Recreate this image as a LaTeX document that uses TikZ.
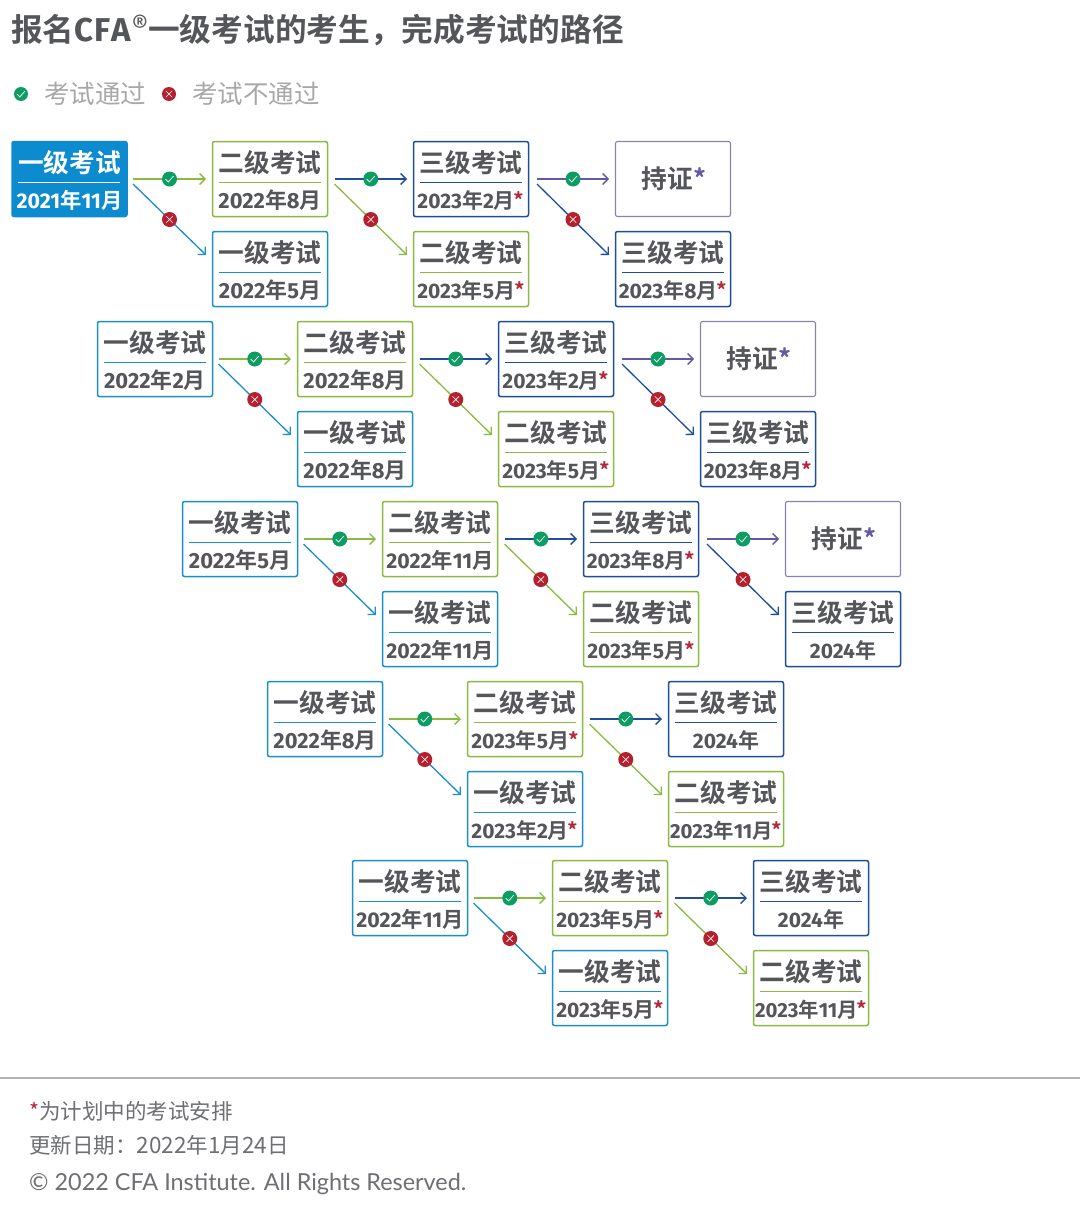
\documentclass[tikz,border=0pt]{standalone}
\usepackage{fontspec}
\usetikzlibrary{arrows.meta}
\newfontfamily\cjkr{Noto Sans CJK SC}
\newfontfamily\cjkb{Noto Sans CJK SC Bold}
\newfontfamily\latl{Lato}
\newfontfamily\fira[Numbers={Proportional,Lining}]{Fira Sans}
\definecolor{inktext}{HTML}{55565A}
\definecolor{lvlone}{HTML}{1A8FCB}
\definecolor{lvlfill}{HTML}{0C8CCE}
\definecolor{lvltwo}{HTML}{8ABB40}
\definecolor{lvlthree}{HTML}{1F4E9C}
\definecolor{cert}{HTML}{6457A6}
\definecolor{certedge}{HTML}{8883A8}
\definecolor{redstar}{HTML}{B4283C}
\definecolor{okgreen}{HTML}{0D9D62}
\definecolor{badred}{HTML}{B5202F}
\definecolor{legendgrey}{HTML}{A8A8A8}
\newcommand{\rs}{\textcolor{redstar}{\cjkb*}}
\newcommand{\dg}[1]{{\fira\bfseries #1}}
\newcommand{\dbase}[2]{\dg{#1}年\dg{#2}月}
% plain date, date with 11, starred date, starred date with 11
\newcommand{\dt}[2]{{\fontsize{21.9}{24}\selectfont\dbase{#1}{#2}}}
\newcommand{\de}[2]{{\fontsize{21.3}{24}\selectfont\dbase{#1}{#2}}}
\newcommand{\ds}[2]{{\fontsize{21}{24}\selectfont\dbase{#1}{#2}}\kern-1pt\rs}
\newcommand{\dq}[2]{{\fontsize{20.4}{24}\selectfont\dbase{#1}{#2}}\kern-1.5pt\rs}
\tikzset{
  cellbox/.style={draw=#1,line width=1.5pt,rounded corners=2pt,minimum width=115pt,minimum height=75pt,inner sep=0pt,outer sep=0pt},
  celltitle/.style={inner sep=0pt,font={\cjkb\fontsize{25.7}{28}\selectfont},text=inktext},
  celldate/.style={inner sep=0pt,font={\cjkb\fontsize{21}{24}\selectfont},text=inktext},
  link/.style={line width=1.3pt,-{Straight Barb[length=5.5pt,width=11pt,line width=1.3pt]}},
  okbadge/.style={circle,fill=okgreen,minimum size=15pt,inner sep=0pt,
    path picture={\draw[arrows=-,white,line width=.7pt,shift={(path picture bounding box.center)}] (-4,0)--(-1.2,3)--(4,-3);}},
  nobadge/.style={circle,fill=badred,minimum size=15pt,inner sep=0pt,
    path picture={\draw[arrows=-,white,line width=.7pt,shift={(path picture bounding box.center)}] (-3.2,-3.2)--(3.2,3.2) (-3.2,3.2)--(3.2,-3.2);}},
  plain/.style={inner sep=0pt,anchor=west,text=inktext}
}
% name, left, top, title, date, colour
\newcommand{\examcell}[6]{%
  \node[cellbox=#6] (#1) at (#2+58,#3+38) {};
  \node[celltitle] (#1t) at (#2+58,#3+22) {#4};
  \node[celldate] (#1d) at (#2+58,#3+59.5) {#5};
  \draw[#6,line width=1.5pt] ([xshift=-51.5pt,yshift=-3.7pt]#1.center) -- ([xshift=50.5pt,yshift=-3.7pt]#1.center);
}
\newcommand{\firstcell}[5]{%
  \node[cellbox=lvlfill,fill=lvlfill] (#1) at (#2+57.5,#3+38) {};
  \node[celltitle,text=white] (#1t) at (#2+57.5,#3+22) {#4};
  \node[celldate,text=white] (#1d) at (#2+57.5,#3+59.5) {#5};
  \draw[white,line width=1.5pt] ([xshift=-51.5pt,yshift=-3.7pt]#1.center) -- ([xshift=50.5pt,yshift=-3.7pt]#1.center);
}
\newcommand{\certcell}[3]{%
  \node[cellbox=certedge,line width=1.1pt] (#1) at (#2+58,#3+38) {};
  \node[celltitle,xshift=1pt] (#1t) at (#1.center) {持证\textcolor{cert}{*}};
}
% from, pass target, fail target, pass colour, fail colour, start gap
\newcommand{\split}[6]{%
  \draw[link,#4] ([xshift=#6 pt]#1.east) -- node[okbadge,pos=.5] (#1ok) {} ([xshift=-6.5pt]#2.west);
  \draw[link,#5] ([shift={(#6,5)}]#1.east) -- node[nobadge,pos=.5] (#1no) {} ([shift={(-6.5,-14)}]#3.west);
}
\begin{document}
\begin{tikzpicture}[x=1pt,y=-1pt]
\useasboundingbox (0,0) rectangle (1080,1218);
\fill[white] (0,0) rectangle (1080,1218);
% heading
\node[plain,font={\cjkb\fontsize{31.7}{34}\selectfont}] (heading) at (11,30) {报名{\fira\bfseries\fontsize{33}{34}\selectfont C\kern1pt F\kern1pt A\kern.5pt}\raisebox{7pt}{\fontsize{26}{26}\selectfont\fira ®}一级考试的考生，完成考试的路径};
% legend
\node[okbadge,minimum size=14pt] (legok) at (21,94) {};
\node[plain,font={\cjkr\fontsize{25.5}{28}\selectfont},text=legendgrey] (legoktext) at (44,94) {考试通过};
\node[nobadge,minimum size=14pt] (legno) at (169,94) {};
\node[plain,font={\cjkr\fontsize{25.5}{28}\selectfont},text=legendgrey] (legnotext) at (192,94) {考试不通过};
% row 1
\firstcell{a1}{12}{141}{一级考试}{\de{2021}{11}}
\examcell{a2}{212}{141}{二级考试}{\dt{2022}{8}}{lvltwo}
\examcell{a3}{212}{231}{一级考试}{\dt{2022}{5}}{lvlone}
\examcell{a4}{413}{141}{三级考试}{\ds{2023}{2}}{lvlthree}
\examcell{a5}{413}{231}{二级考试}{\ds{2023}{5}}{lvltwo}
\certcell{a6}{615}{141}
\examcell{a7}{615}{231}{三级考试}{\ds{2023}{8}}{lvlthree}
\split{a1}{a2}{a3}{lvltwo}{lvlone}{6}
\split{a2}{a4}{a5}{lvlthree}{lvltwo}{7}
\split{a4}{a6}{a7}{cert}{lvlthree}{8.5}
% row 2
\examcell{b1}{97}{321}{一级考试}{\dt{2022}{2}}{lvlone}
\examcell{b2}{297}{321}{二级考试}{\dt{2022}{8}}{lvltwo}
\examcell{b3}{297}{411}{一级考试}{\dt{2022}{8}}{lvlone}
\examcell{b4}{498}{321}{三级考试}{\ds{2023}{2}}{lvlthree}
\examcell{b5}{498}{411}{二级考试}{\ds{2023}{5}}{lvltwo}
\certcell{b6}{700}{321}
\examcell{b7}{700}{411}{三级考试}{\ds{2023}{8}}{lvlthree}
\split{b1}{b2}{b3}{lvltwo}{lvlone}{6}
\split{b2}{b4}{b5}{lvlthree}{lvltwo}{7}
\split{b4}{b6}{b7}{cert}{lvlthree}{8.5}
% row 3
\examcell{c1}{182}{501}{一级考试}{\dt{2022}{5}}{lvlone}
\examcell{c2}{382}{501}{二级考试}{\de{2022}{11}}{lvltwo}
\examcell{c3}{382}{591}{一级考试}{\de{2022}{11}}{lvlone}
\examcell{c4}{583}{501}{三级考试}{\ds{2023}{8}}{lvlthree}
\examcell{c5}{583}{591}{二级考试}{\ds{2023}{5}}{lvltwo}
\certcell{c6}{785}{501}
\examcell{c7}{785}{591}{三级考试}{\dg{2024}年}{lvlthree}
\split{c1}{c2}{c3}{lvltwo}{lvlone}{6}
\split{c2}{c4}{c5}{lvlthree}{lvltwo}{7}
\split{c4}{c6}{c7}{cert}{lvlthree}{8.5}
% row 4
\examcell{d1}{267}{681}{一级考试}{\dt{2022}{8}}{lvlone}
\examcell{d2}{467}{681}{二级考试}{\ds{2023}{5}}{lvltwo}
\examcell{d3}{467}{771}{一级考试}{\ds{2023}{2}}{lvlone}
\examcell{d4}{668}{681}{三级考试}{\dg{2024}年}{lvlthree}
\examcell{d5}{668}{771}{二级考试}{\dq{2023}{11}}{lvltwo}
\split{d1}{d2}{d3}{lvltwo}{lvlone}{6}
\split{d2}{d4}{d5}{lvlthree}{lvltwo}{7}
% row 5
\examcell{e1}{352}{860}{一级考试}{\de{2022}{11}}{lvlone}
\examcell{e2}{552}{860}{二级考试}{\ds{2023}{5}}{lvltwo}
\examcell{e3}{552}{950}{一级考试}{\ds{2023}{5}}{lvlone}
\examcell{e4}{753}{860}{三级考试}{\dg{2024}年}{lvlthree}
\examcell{e5}{753}{950}{二级考试}{\dq{2023}{11}}{lvltwo}
\split{e1}{e2}{e3}{lvltwo}{lvlone}{6}
\split{e2}{e4}{e5}{lvlthree}{lvltwo}{7}
% footer
\coordinate (ruleL) at (0,1078);
\coordinate (ruleR) at (1080,1078);
\draw[black!30,line width=1.2pt] (ruleL) -- (ruleR);
\node[plain,font={\cjkr\fontsize{21.5}{24}\selectfont},text=inktext!85] (foot1) at (29,1111) {\textcolor{redstar}{*}为计划中的考试安排};
\node[plain,font={\cjkr\fontsize{21.5}{24}\selectfont},text=inktext!85] (foot2) at (29,1145) {更新日期：{\fontsize{22.5}{24}\selectfont 2022}年{\fontsize{22.5}{24}\selectfont 1}月{\fontsize{22.5}{24}\selectfont 24}日};
\node[plain,font={\latl\fontsize{23.4}{26}\selectfont},text=inktext!85] (foot3) at (29,1184.5) {© 2022 CFA Institute. All Rights Reserved.};
\end{tikzpicture}
\end{document}
